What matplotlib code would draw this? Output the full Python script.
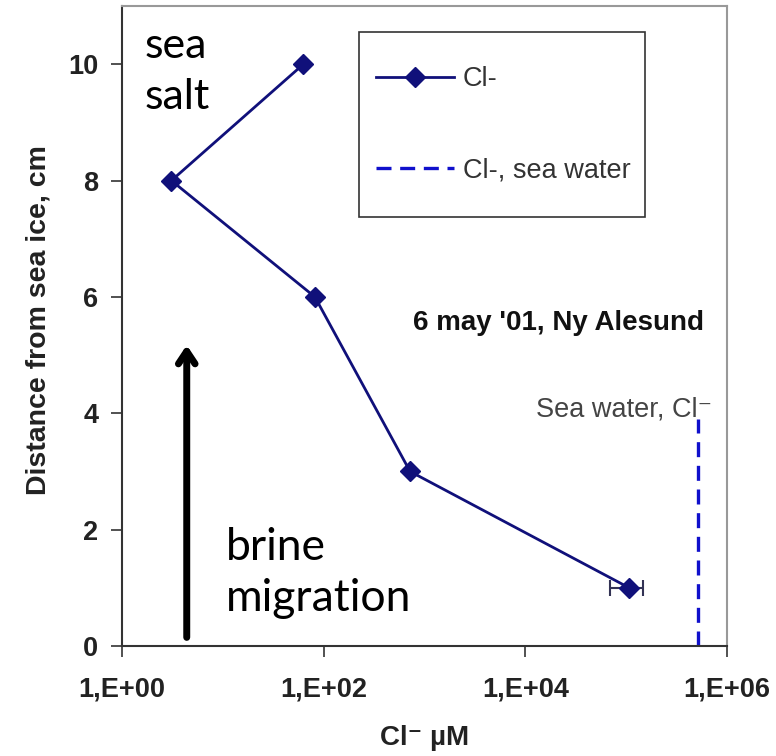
import numpy as np
import matplotlib.pyplot as plt
from matplotlib.patches import Rectangle
from matplotlib.ticker import FixedLocator, NullLocator

plt.rcParams['font.family'] = ['Liberation Sans', 'DejaVu Sans']

# Cl- profile, 6 may '01, Ny Alesund
dist = [10, 8, 6, 3, 1]                  # cm from sea ice
cl = [63, 3.1, 82, 720, 1.07e5]          # uM
cl_err_lo = [0, 0, 0, 0, 3.8e4]
cl_err_hi = [0, 0, 0, 0, 3.8e4]

sea_water_cl = 5.2e5
sea_water_top = 3.9

xticks = [1, 1e2, 1e4, 1e6]
xticklabels = ['1,E+00', '1,E+02', '1,E+04', '1,E+06']
yticks = [0, 2, 4, 6, 8, 10]

navy = '#10107a'

fig = plt.figure(figsize=(7.76, 7.56), dpi=100)
ax = fig.add_axes([0.157, 0.1455, 0.78, 0.8465])

ax.errorbar(cl, dist, xerr=[cl_err_lo, cl_err_hi], fmt='none',
            ecolor='#333355', elinewidth=1.5, capsize=6, capthick=1.5)
h1, = ax.plot(cl, dist, color=navy, marker='D', markersize=10, linewidth=2,
              label='Cl-')
h2, = ax.plot([sea_water_cl, sea_water_cl], [0, sea_water_top], color='#1010cc',
              linewidth=2.4, dashes=(4.5, 2.6), label='Cl-, sea water')

ax.set_xscale('log')
ax.set_xlim(1, 1e6)
ax.set_ylim(0, 11)
ax.xaxis.set_major_locator(FixedLocator(xticks))
ax.xaxis.set_minor_locator(NullLocator())
ax.set_xticklabels(xticklabels)
ax.set_yticks(yticks)
ax.tick_params(axis='both', direction='out', length=8, width=1.2, colors='#333333',
               labelsize=19.5, labelcolor='#222222')
ax.tick_params(axis='x', pad=14)
ax.tick_params(axis='y', pad=9)
for lab in ax.get_xticklabels() + ax.get_yticklabels():
    lab.set_fontweight('bold')

for s in ['left', 'bottom']:
    ax.spines[s].set_color('#333333')
    ax.spines[s].set_linewidth(1.5)
for s in ['top', 'right']:
    ax.spines[s].set_color('#999999')
    ax.spines[s].set_linewidth(1.5)

ax.set_ylabel('Distance from sea ice, cm', fontsize=20.5, fontweight='bold',
              color='#222222')
ax.yaxis.set_label_coords(-0.116, 0.51)
ax.set_xlabel('Cl⁻ µM', fontsize=20, fontweight='bold', color='#222222',
              labelpad=16)

# legend box drawn separately (tall box with narrow side margins)
ax.add_patch(Rectangle((0.392, 0.670), 0.472, 0.289, transform=ax.transAxes,
                       facecolor='white', edgecolor='#333333', linewidth=1.2,
                       zorder=4))
leg = ax.legend(handles=[h1, h2], loc='center', bbox_to_anchor=(0.63, 0.8145),
                fontsize=19.5, frameon=False, handlelength=2.9,
                labelspacing=2.4, handletextpad=0.3, borderpad=0)
leg.set_zorder(5)
for t in leg.get_texts():
    t.set_color('#333333')

ax.text(0.962, 0.505, "6 may '01, Ny Alesund", transform=ax.transAxes,
        ha='right', va='center', fontsize=20, fontweight='bold', color='#111111')
ax.text(sea_water_cl * 1.38, 3.95, 'Sea water, Cl⁻', ha='right', va='baseline',
        fontsize=19.5, color='#444444')

ax.text(0.038, 0.967, 'sea\nsalt', transform=ax.transAxes, ha='left', va='top',
        fontsize=31, family='Lato', linespacing=1.4)
ax.text(0.172, 0.042, 'brine\nmigration', transform=ax.transAxes, ha='left',
        va='bottom', fontsize=32, family='Lato', linespacing=1.3)

ax.annotate('', xy=(4.4, 5.22), xytext=(4.4, 0.1),
            arrowprops=dict(arrowstyle='->,head_length=0.9,head_width=0.6',
                            color='black', lw=5))

fig.savefig('out.png', dpi=100)
